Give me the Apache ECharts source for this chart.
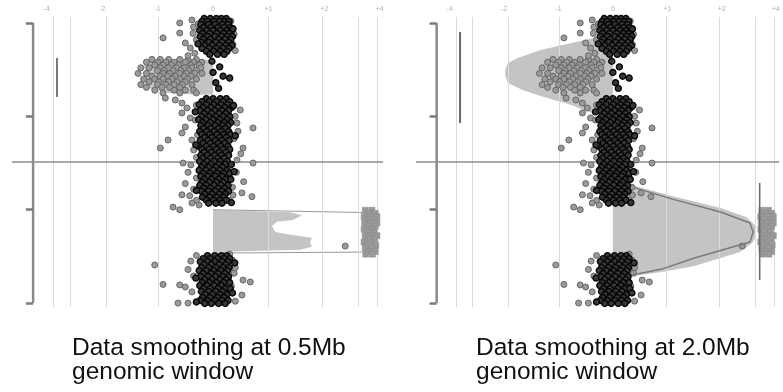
<!DOCTYPE html>
<html>
<head>
<meta charset="utf-8">
<script src="https://cdn.jsdelivr.net/npm/echarts@6/dist/echarts.min.js"></script>
<style>
  html, body { margin: 0; padding: 0; background: #fff; }
  #main { width: 783px; height: 392px; }
</style>
</head>
<body>
<div id="main"></div>
<script>
// top tick labels (log ratio) and grid positions
var xTickVals = [-3, -2, -1, 0, 1, 2, 3];
var xTickLabels = ['-4', '-2', '-1', '0', '+1', '+2', '+4'];
var gridX = [-2.88, -2.58, -1.93, -0.99, 0.99, 1.96, 2.61, 2.96];
var yTickVals = [0, 50, 100, 150];
var centroLine = 74.5;
var spineX = -3.24;
var tickLen = 0.13;
var spineRange = [0, 150];

// black points, rows of [y, x1, x2, ...]
var blackRowsA = [
  [-2.4, -0.16, -0.05, 0.06, 0.15, 0.24],
  [-0.8, -0.2, -0.1, 0.02, 0.12, 0.21, 0.29],
  [0.8, -0.22, -0.08, 0.04, 0.17, 0.27],
  [2.4, -0.17, -0.04, 0.09, 0.2, 0.31],
  [4.0, -0.24, -0.11, 0.0, 0.13, 0.25, 0.33],
  [5.6, -0.19, -0.06, 0.07, 0.19, 0.29],
  [7.2, -0.23, -0.1, 0.03, 0.15, 0.26, 0.35],
  [8.8, -0.18, -0.05, 0.1, 0.22, 0.32],
  [10.4, -0.21, -0.08, 0.05, 0.16, 0.28],
  [12.0, -0.15, -0.02, 0.11, 0.23, 0.34],
  [13.6, -0.2, -0.07, 0.06, 0.18, 0.29],
  [15.2, -0.12, 0.01, 0.13, 0.25],
  [16.8, -0.06, 0.08, 0.2]
];
var blackRowsC = [
  [40.5, -0.12, 0.0, 0.13, 0.24],
  [42.1, -0.2, -0.07, 0.06, 0.18, 0.3],
  [43.7, -0.25, -0.12, 0.01, 0.14, 0.26],
  [45.3, -0.18, -0.04, 0.09, 0.21, 0.33],
  [46.9, -0.23, -0.1, 0.03, 0.16, 0.28],
  [48.5, -0.16, -0.03, 0.11, 0.23],
  [50.1, -0.21, -0.08, 0.05, 0.18, 0.3],
  [51.7, -0.26, -0.13, 0.0, 0.12, 0.25],
  [53.3, -0.19, -0.05, 0.08, 0.2, 0.32],
  [54.9, -0.22, -0.09, 0.04, 0.17, 0.27],
  [56.5, -0.17, -0.04, 0.1, 0.22],
  [58.1, -0.24, -0.11, 0.02, 0.15, 0.28],
  [59.7, -0.2, -0.06, 0.07, 0.19, 0.31],
  [61.3, -0.15, -0.02, 0.12, 0.24],
  [62.9, -0.23, -0.09, 0.04, 0.16, 0.29],
  [64.5, -0.18, -0.05, 0.09, 0.21],
  [66.1, -0.26, -0.12, 0.01, 0.14, 0.27],
  [67.7, -0.2, -0.07, 0.06, 0.18, 0.3],
  [69.3, -0.16, -0.03, 0.11, 0.23],
  [70.9, -0.22, -0.1, 0.03, 0.15, 0.28],
  [72.5, -0.19, -0.05, 0.08, 0.2],
  [74.1, -0.24, -0.11, 0.02, 0.13, 0.26],
  [75.7, -0.17, -0.04, 0.1, 0.22, 0.33],
  [77.3, -0.21, -0.08, 0.05, 0.17],
  [78.9, -0.25, -0.13, 0.0, 0.12, 0.25],
  [80.5, -0.18, -0.06, 0.07, 0.19, 0.3],
  [82.1, -0.22, -0.09, 0.04, 0.16],
  [83.7, -0.16, -0.03, 0.1, 0.23, 0.32],
  [85.3, -0.2, -0.07, 0.06, 0.18],
  [86.9, -0.24, -0.12, 0.02, 0.14, 0.27],
  [88.5, -0.17, -0.05, 0.09, 0.21],
  [90.1, -0.21, -0.08, 0.04, 0.16, 0.28],
  [91.7, -0.15, -0.02, 0.11, 0.22],
  [93.3, -0.19, -0.06, 0.07, 0.19],
  [94.9, -0.12, 0.01, 0.13, 0.24],
  [96.5, -0.08, 0.05, 0.16]
];
var blackRowsE = [
  [124.6, -0.1, 0.03, 0.15, 0.25],
  [126.2, -0.18, -0.05, 0.08, 0.2, 0.3],
  [127.8, -0.23, -0.1, 0.03, 0.16, 0.27],
  [129.4, -0.16, -0.03, 0.11, 0.23],
  [131.0, -0.21, -0.08, 0.05, 0.18, 0.29],
  [132.6, -0.25, -0.12, 0.01, 0.14, 0.26],
  [134.2, -0.18, -0.04, 0.09, 0.21],
  [135.8, -0.22, -0.09, 0.04, 0.17, 0.28],
  [137.4, -0.15, -0.02, 0.12, 0.24],
  [139.0, -0.2, -0.07, 0.06, 0.19, 0.3],
  [140.6, -0.24, -0.11, 0.02, 0.15],
  [142.2, -0.17, -0.05, 0.09, 0.22, 0.31],
  [143.8, -0.21, -0.08, 0.05, 0.17],
  [145.4, -0.14, -0.01, 0.12, 0.25],
  [147.0, -0.19, -0.06, 0.08, 0.2],
  [148.6, -0.23, -0.1, 0.04, 0.16, 0.27],
  [150.2, -0.15, -0.03, 0.1, 0.22]
];
var blackExtra = [
  [-0.02, 20.5], [0.12, 23.5], [0.0, 26.5], [0.18, 28.5], [0.3, 29.5], [0.05, 32], [0.1, 35],
  [0.37, 44.2], [0.4, 60.4], [-0.31, 65.3], [0.38, 79.6], [-0.3, 89.7], [0.33, 96.2], [-0.32, 47.6],
  [0.36, 3.1], [-0.27, 11.2], [0.39, 128.5], [-0.31, 136.6], [0.35, 144.6], [-0.3, 149.4]
];

// gray points: shifted (loss) segment rows and scattered points
var grayRowsB = [
  [19.5, -1.1, -0.95, -0.8, -0.6, -0.45, -0.3],
  [21.0, -1.2, -1.0, -0.85, -0.7, -0.5, -0.35, -0.2],
  [22.5, -1.05, -0.9, -0.75, -0.62, -0.4, -0.25],
  [24.0, -1.3, -1.15, -0.95, -0.8, -0.66, -0.52, -0.38, -0.22],
  [25.5, -1.0, -0.88, -0.72, -0.58, -0.44, -0.3],
  [27.0, -1.35, -1.2, -0.9, -0.78, -0.6, -0.48, -0.33, -0.2],
  [28.5, -1.1, -0.95, -0.82, -0.68, -0.52, -0.4],
  [30.0, -1.25, -1.05, -0.9, -0.74, -0.6, -0.46, -0.3],
  [31.5, -1.15, -0.98, -0.8, -0.65, -0.5],
  [33.0, -1.3, -1.0, -0.85, -0.7, -0.55, -0.38],
  [34.5, -1.2, -0.92, -0.78, -0.6],
  [36.0, -1.05, -0.7, -0.5, -0.35],
  [37.5, -0.9, -0.6, -0.3]
];
var grayPts = [
  [-0.38, -1.6], [-0.6, 0.0], [-0.35, 2.2], [-0.6, 5.4], [-0.36, 5.6], [-0.9, 8.0], [-0.5, 10.7],
  [-0.41, 13.4], [-0.3, 9.0], [0.36, 11.5], [0.4, 14.8], [-0.33, 16.2], [0.38, 6.0], [-0.27, 0.5],
  [0.32, -1.0], [-0.45, 17.5],
  [-0.86, 40.2], [-0.68, 41.2], [-0.56, 42.9], [-0.47, 45.5], [-0.56, 48.2], [-0.41, 50.9],
  [-0.5, 55.7], [-0.56, 58.9], [-0.81, 62.7], [-0.95, 67], [-0.38, 62.7], [0.72, 56.2], [0.54, 67],
  [0.43, 53.6], [0.49, 46.6], [0.35, 45], [0.4, 50], [0.45, 58], [0.38, 62], [0.5, 70], [0.3, 77],
  [0.42, 80], [0.55, 85], [0.35, 88], [-0.3, 44], [-0.32, 52], [-0.28, 60], [-0.35, 68], [-0.3, 72],
  [-0.4, 76], [-0.45, 80], [-0.3, 83], [-0.5, 86], [-0.35, 89], [-0.42, 92.5], [-0.3, 95],
  [-0.72, 98.6], [-0.6, 100], [-0.56, 92], [-0.38, 96.4], [0.36, 92.1], [0.52, 91], [0.7, 93],
  [0.72, 75], [-0.54, 75], [0.43, 73.4], [-0.1, 47], [0.15, 52], [-0.2, 57], [0.22, 64], [0.05, 71],
  [-0.15, 78], [0.26, 82], [0.1, 86], [-0.22, 84], [0.28, 70], [0.3, 95], [-0.25, 97.5],
  [-1.05, 129.6], [-0.9, 140], [-0.6, 140.3], [-0.5, 141.4], [-0.63, 150], [-0.45, 150], [0.54, 137.7],
  [0.67, 138.7], [0.52, 145.7], [-0.4, 127.5], [-0.45, 132], [-0.35, 135.5], [-0.38, 144], [0.35, 127],
  [0.4, 131], [0.38, 134], [0.33, 141], [0.4, 149], [-0.3, 124.5], [0.3, 123.8], [0.1, 133],
  [-0.12, 139], [0.2, 146], [2.38, 119.5]
];
// gained segment near the right edge, rows of [y, x1, x2, ...]
var gainRows = [
  [100.3, 2.74, 2.86], [102.0, 2.8, 2.92], [103.7, 2.72, 2.84, 2.95], [105.4, 2.78, 2.9],
  [107.1, 2.73, 2.85, 2.95], [108.8, 2.8, 2.92], [110.5, 2.72, 2.86], [112.2, 2.78, 2.9],
  [113.9, 2.74, 2.85, 2.95], [115.6, 2.8, 2.91], [117.3, 2.72, 2.84], [119.0, 2.78, 2.93],
  [120.7, 2.74, 2.86], [122.4, 2.8, 2.92], [123.8, 2.75, 2.87]
];

// smoothed segments, 0.5Mb window
var lossShape05 = [[0, 19.8], [-0.6, 19.4], [-1.1, 20.5], [-1.25, 23], [-1.2, 27], [-1.3, 31], [-1.15, 35], [-0.8, 37.5], [-0.3, 38.5], [0, 38.5]];
var gainShape05 = [[0, 100.2], [1.39, 101.3], [1.6, 103.0], [1.44, 105.5], [1.15, 106.5], [1.06, 108.7], [1.12, 111.9],
  [1.39, 113.4], [1.78, 115.0], [1.75, 117.6], [1.78, 119.8], [1.57, 121.4], [0, 122.7]];
var gainTop05 = [[0, 100.0], [2.68, 101.5]];
var gainBottom05 = [[0, 123.2], [2.68, 122.7]];
var barY05 = [18.7, 39.6];
// smoothed segments, 2.0Mb window
var lossShape20 = [[0, 6.4], [-0.36, 8.0], [-0.76, 10.7], [-1.33, 14.5], [-1.75, 18.7], [-1.93, 21.4], [-1.98, 25.2],
  [-1.98, 27.9], [-1.93, 32.1], [-1.66, 35.9], [-1.39, 38.6], [-1.08, 41.2], [-0.76, 43.9], [-0.54, 46.6],
  [-0.31, 48.7], [0, 50.3]];
var gainShape20 = [[0, 85.7], [0.41, 87.3], [1.08, 92.7], [1.98, 99.1], [2.45, 103.9], [2.61, 108.2], [2.63, 113.6],
  [2.58, 117.3], [2.34, 122.7], [1.5, 130.2], [0.9, 133.4], [0.36, 135.5], [0, 135.5]];
var gainOutline20 = [[0.41, 88.3], [1.08, 94.2], [1.98, 101.2], [2.52, 107.1], [2.58, 111.9], [2.52, 117.3],
  [1.5, 125.9], [0.9, 131.8], [0.36, 135.0]];
var gainMarkX20 = 2.7;
var gainMarkY20 = [85.7, 137.7];
var barY20 = [4.8, 53.6];
var barX = -2.81;

var captions = ['Data smoothing at 0.5Mb', 'Data smoothing at 2.0Mb'];
var caption2 = 'genomic window';

function rowsToPts(rows) {
  var out = [];
  rows.forEach(function (r) {
    for (var i = 1; i < r.length; i++) out.push([r[i], r[0]]);
  });
  return out;
}
var blackPts = rowsToPts(blackRowsA).concat(rowsToPts(blackRowsC), rowsToPts(blackRowsE), blackExtra);
var grayAll = rowsToPts(grayRowsB).concat(grayPts);
var gainPts = rowsToPts(gainRows);

var myChart = echarts.init(document.getElementById('main'));

function polySeries(idx, shape, z) {
  return {
    type: 'custom', xAxisIndex: idx, yAxisIndex: idx, z: z, silent: true,
    data: [[0, 0]],
    renderItem: function (params, api) {
      var pts = shape.map(function (p) { return api.coord(p); });
      return { type: 'polygon', shape: { points: pts }, style: { fill: '#c4c4c4' } };
    }
  };
}
function lineSeries(idx, data, color, width, z) {
  return {
    type: 'line', xAxisIndex: idx, yAxisIndex: idx, z: z, silent: true,
    data: data, showSymbol: false, symbol: 'none', smooth: false,
    lineStyle: { color: color, width: width }
  };
}

var series = [];
var xAxes = [];
var yAxes = [];
var grids = [
  { left: 12, top: 17, width: 371, height: 290 },
  { left: 416, top: 17, width: 371, height: 290 }
];
[0, 1].forEach(function (g) {
  xAxes.push({
    type: 'value', gridIndex: g, min: -3.62, max: 3.06, position: 'top',
    axisLine: { show: false }, axisTick: { show: false }, splitLine: { show: false },
    axisLabel: {
      customValues: xTickVals, margin: 4, fontSize: 7, color: '#b0b0b0',
      formatter: function (v) { return xTickLabels[xTickVals.indexOf(v)]; }
    }
  });
  yAxes.push({
    type: 'value', gridIndex: g, min: -3.2, max: 152.1, inverse: true,
    axisLine: { show: false }, axisTick: { show: false },
    splitLine: { show: false }, axisLabel: { show: false }
  });
  // vertical grid lines
  series.push({
    type: 'line', xAxisIndex: g, yAxisIndex: g, z: 1, data: [], silent: true,
    markLine: {
      silent: true, symbol: 'none', label: { show: false },
      lineStyle: { color: '#dadada', width: 1, type: 'solid' },
      data: gridX.map(function (v) { return { xAxis: v }; })
    }
  });
  // smoothed segments
  if (g === 0) {
    series.push(polySeries(g, lossShape05, 2));
    series.push(polySeries(g, gainShape05, 2));
  } else {
    series.push(polySeries(g, lossShape20, 2));
    series.push(polySeries(g, gainShape20, 2));
  }
  // horizontal line
  series.push({
    type: 'line', xAxisIndex: g, yAxisIndex: g, z: 3, data: [], silent: true,
    markLine: {
      silent: true, symbol: 'none', label: { show: false },
      lineStyle: { color: '#8c8c8c', width: 1.5, type: 'solid' },
      data: [{ yAxis: centroLine }]
    }
  });
  // y spine with its ticks
  var spine = lineSeries(g, [[spineX, spineRange[0]], [spineX, spineRange[1]]], '#8a8a8a', 2.5, 3);
  spine.markLine = {
    silent: true, symbol: 'none', label: { show: false },
    lineStyle: { color: '#7a7a7a', width: 2.5, type: 'solid' },
    data: yTickVals.map(function (v) {
      return [{ coord: [spineX - tickLen, v] }, { coord: [spineX, v] }];
    })
  };
  series.push(spine);
  // scatter points
  series.push({
    type: 'scatter', xAxisIndex: g, yAxisIndex: g, z: 5, clip: false, silent: true,
    symbolSize: 6, data: grayAll,
    itemStyle: { color: '#9a9a9a', borderColor: '#666', borderWidth: 1, opacity: 1 }
  });
  series.push({
    type: 'scatter', xAxisIndex: g, yAxisIndex: g, z: 5, clip: false, silent: true,
    symbolSize: 6, data: blackPts,
    itemStyle: { color: '#383838', borderColor: '#050505', borderWidth: 1.4, opacity: 1 }
  });
  series.push({
    type: 'scatter', xAxisIndex: g, yAxisIndex: g, z: 5, clip: true, silent: true,
    symbol: 'rect', symbolSize: 6, data: gainPts,
    itemStyle: { color: '#9a9a9a', borderColor: '#888', borderWidth: 0.5, opacity: 1 }
  });
  if (g === 0) {
    series.push(lineSeries(g, gainTop05, '#9a9a9a', 1, 4));
    series.push(lineSeries(g, gainBottom05, '#9a9a9a', 1, 4));
    series.push(lineSeries(g, [[barX, barY05[0]], [barX, barY05[1]]], '#777', 2, 6));
  } else {
    series.push(lineSeries(g, gainOutline20, '#7a7a7a', 1.5, 6));
    series.push(lineSeries(g, [[gainMarkX20, gainMarkY20[0]], [gainMarkX20, gainMarkY20[1]]], '#6a6a6a', 1.5, 6));
    series.push(lineSeries(g, [[barX, barY20[0]], [barX, barY20[1]]], '#666', 2, 6));
  }
});

var captionFont = '24.5px "Liberation Sans", Arial, sans-serif';
var option = {
  backgroundColor: '#fff',
  animation: false,
  grid: grids,
  xAxis: xAxes,
  yAxis: yAxes,
  series: series,
  graphic: [
    { type: 'text', left: 72, top: 336, style: { text: captions[0], font: captionFont, fill: '#111' } },
    { type: 'text', left: 72, top: 360, style: { text: caption2, font: captionFont, fill: '#111' } },
    { type: 'text', left: 476, top: 336, style: { text: captions[1], font: captionFont, fill: '#111' } },
    { type: 'text', left: 476, top: 360, style: { text: caption2, font: captionFont, fill: '#111' } }
  ]
};
myChart.setOption(option);
</script>
</body>
</html>
